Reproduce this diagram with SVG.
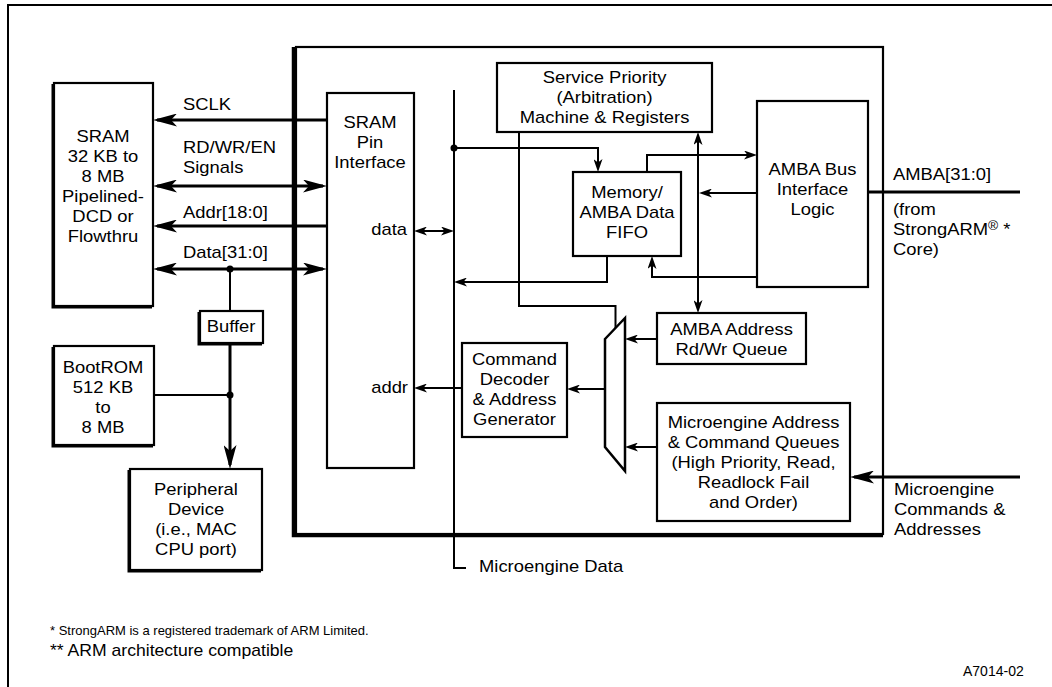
<svg xmlns="http://www.w3.org/2000/svg" width="1052" height="687" viewBox="0 0 1052 687">
<style>
.t{font-family:"Liberation Sans",Arial,Helvetica,sans-serif;font-size:16px;fill:#000}
.c{text-anchor:middle}
.e{text-anchor:end}
.box{fill:#fff;stroke:#000;stroke-width:2.2}
.sh{fill:none;stroke:#000;stroke-width:2}
.ln{fill:none;stroke:#000;stroke-width:2}
.bl{fill:none;stroke:#000;stroke-width:3}
.sa{marker-end:url(#as)}
.sd{marker-start:url(#as);marker-end:url(#as)}
.ba{marker-end:url(#ab)}
.bd{marker-start:url(#ab);marker-end:url(#ab)}
</style>
<defs>
<marker id="as" markerUnits="userSpaceOnUse" markerWidth="13" markerHeight="9" refX="10" refY="4.5" orient="auto-start-reverse">
<path d="M0,0 L13,4.5 L0,9 L3.5,4.5 Z" fill="#000"/>
</marker>
<marker id="ab" markerUnits="userSpaceOnUse" markerWidth="24" markerHeight="13" refX="20" refY="6.5" orient="auto-start-reverse">
<path d="M0,0 L24,6.5 L0,13 L6,6.5 Z" fill="#000"/>
</marker>
</defs>
<rect width="1052" height="687" fill="#fff"/>
<path d="M8,687 V5 H1052" class="ln"/>

<g id="chip">
<rect x="296" y="47" width="587" height="487" class="box"/>
<path d="M293.5,47 V535.5 H883" fill="none" stroke="#000" stroke-width="3.5"/>
</g>

<g id="sram">
<rect x="54" y="83" width="99" height="223" class="box"/>
<path d="M52.5,84 V307.5 H152" class="sh"/>
<text class="t c" transform="translate(103 142) scale(1.15 1)"><tspan x="0">SRAM</tspan><tspan x="0" dy="20">32 KB to</tspan><tspan x="0" dy="20">8 MB</tspan><tspan x="0" dy="20">Pipelined-</tspan><tspan x="0" dy="20">DCD or</tspan><tspan x="0" dy="20">Flowthru</tspan></text>
</g>

<g id="bootrom">
<rect x="54" y="346" width="100" height="99" class="box"/>
<path d="M52.5,347 V446.5 H153" class="sh"/>
<text class="t c" transform="translate(103 373) scale(1.15 1)"><tspan x="0">BootROM</tspan><tspan x="0" dy="20">512 KB</tspan><tspan x="0" dy="20">to</tspan><tspan x="0" dy="20">8 MB</tspan></text>
</g>

<g id="buffer">
<rect x="200" y="311" width="63" height="32" class="box"/>
<path d="M198.5,312 V344.5 H262" class="sh"/>
<text class="t c" transform="translate(231 332) scale(1.15 1)">Buffer</text>
</g>

<g id="peripheral">
<rect x="130" y="469" width="132" height="101" class="box"/>
<path d="M128.5,470 V571.5 H261" class="sh"/>
<text class="t c" transform="translate(196 495) scale(1.15 1)"><tspan x="0">Peripheral</tspan><tspan x="0" dy="20">Device</tspan><tspan x="0" dy="20">(i.e., MAC</tspan><tspan x="0" dy="20">CPU port)</tspan></text>
</g>

<g id="pin-interface">
<rect x="327" y="93" width="87" height="375" class="box"/>
<text class="t c" transform="translate(370 128) scale(1.15 1)"><tspan x="0">SRAM</tspan><tspan x="0" dy="20">Pin</tspan><tspan x="0" dy="20">Interface</tspan></text>
<text class="t e" transform="translate(407 235) scale(1.15 1)">data</text>
<text class="t e" transform="translate(408 393) scale(1.15 1)">addr</text>
</g>

<g id="service-priority">
<rect x="497" y="63" width="215" height="69" class="box"/>
<text class="t c" transform="translate(604.5 83) scale(1.15 1)"><tspan x="0">Service Priority</tspan><tspan x="0" dy="20">(Arbitration)</tspan><tspan x="0" dy="20">Machine &amp; Registers</tspan></text>
</g>

<g id="fifo">
<rect x="573" y="172" width="108" height="84" class="box"/>
<text class="t c" transform="translate(627 198) scale(1.15 1)"><tspan x="0">Memory/</tspan><tspan x="0" dy="20">AMBA Data</tspan><tspan x="0" dy="20">FIFO</tspan></text>
</g>

<g id="amba-bus">
<rect x="757" y="101" width="111" height="186" class="box"/>
<text class="t c" transform="translate(812.5 175) scale(1.15 1)"><tspan x="0">AMBA Bus</tspan><tspan x="0" dy="20">Interface</tspan><tspan x="0" dy="20">Logic</tspan></text>
</g>

<g id="amba-queue">
<rect x="657" y="313" width="149" height="51" class="box"/>
<text class="t c" transform="translate(731.5 335) scale(1.15 1)"><tspan x="0">AMBA Address</tspan><tspan x="0" dy="20">Rd/Wr Queue</tspan></text>
</g>

<g id="me-queues">
<rect x="657" y="403" width="193" height="118" class="box"/>
<text class="t c" transform="translate(753.5 428) scale(1.15 1)"><tspan x="0">Microengine Address</tspan><tspan x="0" dy="20">&amp; Command Queues</tspan><tspan x="0" dy="20">(High Priority, Read,</tspan><tspan x="0" dy="20">Readlock Fail</tspan><tspan x="0" dy="20">and Order)</tspan></text>
</g>

<g id="cmd-decoder">
<rect x="462" y="343" width="105" height="94" class="box"/>
<text class="t c" transform="translate(514.5 365) scale(1.15 1)"><tspan x="0">Command</tspan><tspan x="0" dy="20">Decoder</tspan><tspan x="0" dy="20">&amp; Address</tspan><tspan x="0" dy="20">Generator</tspan></text>
</g>

<g id="mux">
<polygon points="605,339 625,318 625,471 605,447" fill="#fff" stroke="#000" stroke-width="2.5"/>
</g>

<g id="connectors">
<path d="M327,120 H157" class="bl ba"/>
<path d="M157,186 H323" class="bl bd"/>
<path d="M327,226 H157" class="bl ba"/>
<path d="M157,269 H323" class="bl bd"/>
<circle cx="230" cy="269" r="3.5"/>
<path d="M230,269 V311" class="ln"/>
<path d="M230,343 V465" class="bl ba"/>
<circle cx="230" cy="395" r="3.5"/>
<path d="M154,395 H230" class="ln"/>
<path d="M454,90 V568 H466" class="ln"/>
<circle cx="454" cy="148" r="3.5"/>
<path d="M454,148 H598 V169" class="ln sa"/>
<path d="M417,231 H451" class="ln sd"/>
<path d="M462,388 H417" class="ln sa"/>
<path d="M605,389 H570" class="ln sa"/>
<path d="M657,339 H628" class="ln sa"/>
<path d="M657,447 H628" class="ln sa"/>
<path d="M519,132 V306 H615.5 V328" class="ln"/>
<path d="M698,135 V310" class="ln sd"/>
<path d="M647,172 V155 H754" class="ln sa"/>
<path d="M757,193 H702" class="ln sa"/>
<path d="M757,277 H652 V259" class="ln sa"/>
<path d="M607,256 V282 H457" class="ln sa"/>
<path d="M868,192 H1020" class="bl"/>
<path d="M1020,477 H854" class="bl ba"/>
</g>

<g id="labels">
<text class="t" transform="translate(183 110) scale(1.15 1)">SCLK</text>
<text class="t" transform="translate(183 153) scale(1.15 1)"><tspan x="0">RD/WR/EN</tspan><tspan x="0" dy="20">Signals</tspan></text>
<text class="t" transform="translate(183 218) scale(1.15 1)">Addr[18:0]</text>
<text class="t" transform="translate(183 258) scale(1.15 1)">Data[31:0]</text>
<text class="t" transform="translate(479 572) scale(1.15 1)">Microengine Data</text>
<text class="t" transform="translate(893 180) scale(1.15 1)">AMBA[31:0]</text>
<text class="t" transform="translate(893 215) scale(1.15 1)"><tspan x="0">(from</tspan><tspan x="0" dy="20">StrongARM</tspan><tspan font-size="12" dy="-5">®</tspan><tspan dy="5"> *</tspan><tspan x="0" dy="20">Core)</tspan></text>
<text class="t" transform="translate(894 495) scale(1.15 1)"><tspan x="0">Microengine</tspan><tspan x="0" dy="20">Commands &amp;</tspan><tspan x="0" dy="20">Addresses</tspan></text>
<text class="t" x="50" y="635" style="font-size:13px">* StrongARM is a registered trademark of ARM Limited.</text>
<text class="t" transform="translate(50 656) scale(1.1 1)">** ARM architecture compatible</text>
<text class="t" x="963" y="676" style="font-size:14px">A7014-02</text>
</g>
</svg>
